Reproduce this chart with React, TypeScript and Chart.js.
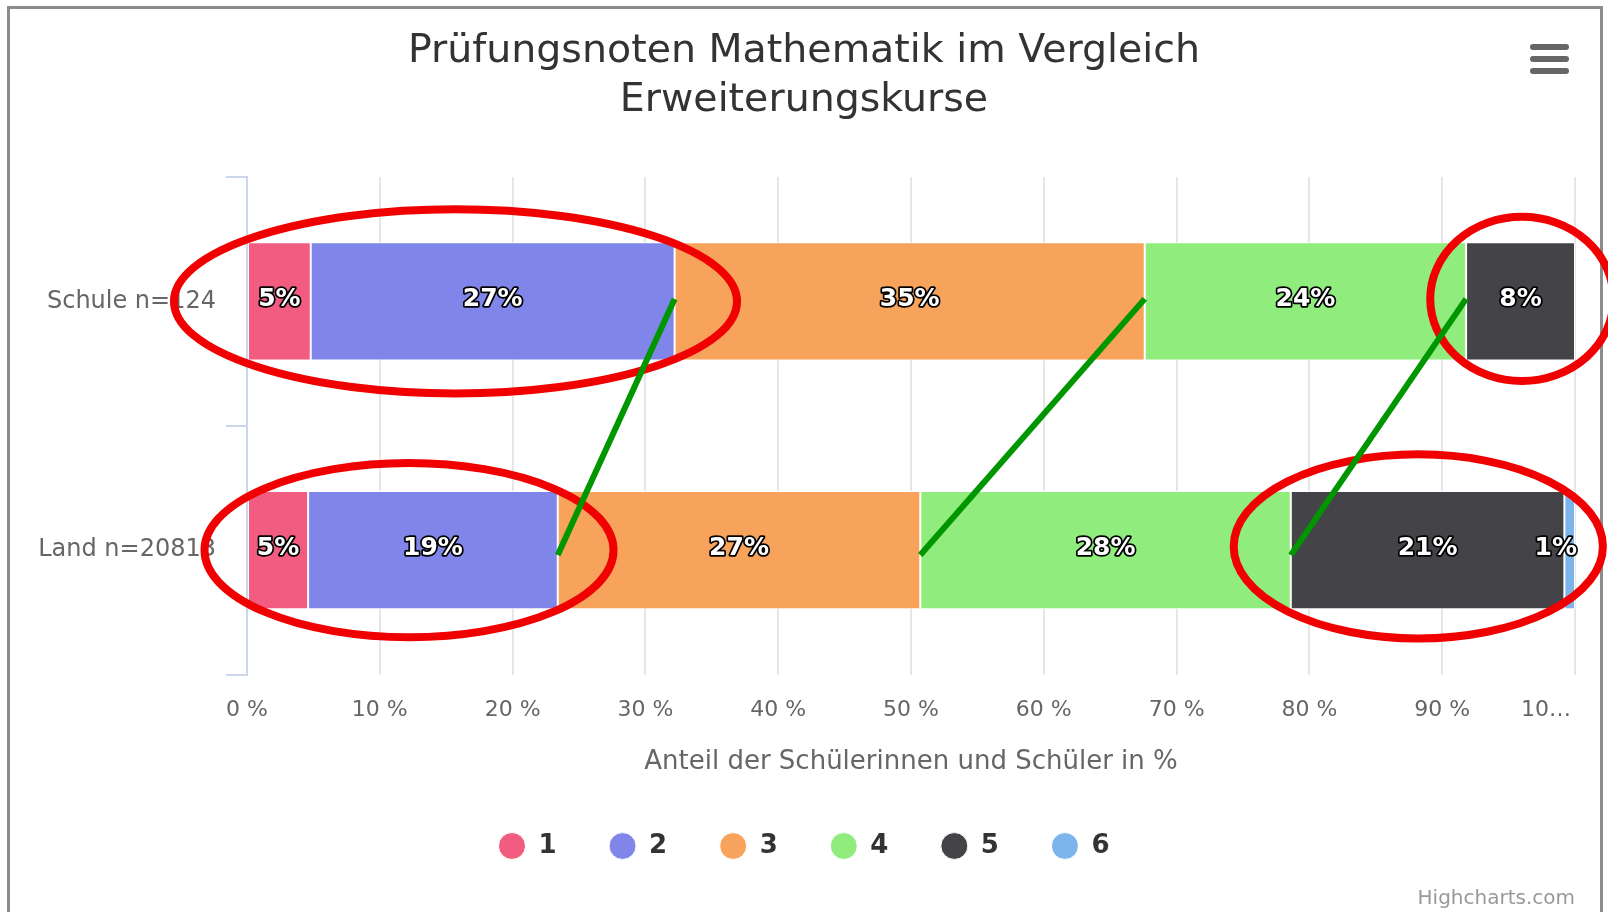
import React, { useEffect, useRef } from 'react';
import { Chart, registerables } from 'chart.js';

Chart.register(...registerables);

// ---------- data ----------
const categories = ['Schule n=124', 'Land n=20813'];
const gradeLabels = ['1', '2', '3', '4', '5', '6'];
const grade1 = [4.8, 4.6];
const grade2 = [27.4, 18.8];
const grade3 = [35.4, 27.3];
const grade4 = [24.2, 27.9];
const grade5 = [8.2, 20.6];
const grade6 = [0, 0.8];
const gradeSeries = [grade1, grade2, grade3, grade4, grade5, grade6];
const gradeColors = ['#f15c80', '#8085e9', '#f7a35c', '#90ed7d', '#434348', '#7cb5ec'];

const xTickValues = [0, 10, 20, 30, 40, 50, 60, 70, 80, 90, 100];
const xTickLabels = ['0 %', '10 %', '20 %', '30 %', '40 %', '50 %', '60 %', '70 %', '80 %', '90 %', '10…'];

const titleLines = ['Prüfungsnoten Mathematik im Vergleich', 'Erweiterungskurse'];
const xAxisTitle = 'Anteil der Schülerinnen und Schüler in %';
const creditText = 'Highcharts.com';

// hand-drawn highlights of the reference (in axis units)
const highlightRow = [0, 1, 0, 1];
const highlightRowShift = [0, 0, -0.01, -0.015];
const highlightCenterPct = [15.7, 12.2, 96.0, 88.2];
const highlightRadiusPct = [21.2, 15.4, 6.9, 13.9];
const highlightRadiusRows = [0.37, 0.35, 0.33, 0.37];
// green connectors: boundary after the first n grades, Schule -> Land
const connectorGradeCounts = [2, 3, 4];

const FONT = '"DejaVu Sans", "Lucida Grande", sans-serif';
const X_TICK_FONT_SIZE = 22;
const X_TICK_GAP = 22.8;

const cumulative = (row: number, n: number) => {
  let s = 0;
  for (let g = 0; g < n; g++) s += gradeSeries[g][row];
  return s;
};

const segmentLabels = {
  id: 'segmentLabels',
  afterDatasetsDraw(chart: any) {
    const { ctx, chartArea } = chart;
    ctx.save();
    ctx.font = `bold 25px ${FONT}`;
    ctx.textAlign = 'center';
    ctx.textBaseline = 'middle';
    ctx.lineJoin = 'round';
    chart.data.datasets.forEach((ds: any, di: number) => {
      const meta = chart.getDatasetMeta(di);
      meta.data.forEach((el: any, i: number) => {
        const v = ds.data[i] as number;
        if (!v) return;
        const text = `${Math.round(v)}%`;
        const w = ctx.measureText(text).width;
        let x = (el.x + el.base) / 2;
        if (x + w / 2 > chartArea.right + 2) x = chartArea.right + 2 - w / 2;
        const y = el.y - 2;
        ctx.strokeStyle = '#000000';
        ctx.lineWidth = 3.5;
        ctx.strokeText(text, x, y);
        ctx.fillStyle = '#ffffff';
        ctx.fillText(text, x, y);
      });
    });
    ctx.restore();
  },
};

const decorations = {
  id: 'decorations',
  afterDraw(chart: any) {
    const { ctx, height, chartArea } = chart;
    const xs = chart.scales.x;
    const ys = chart.scales.y;
    ctx.save();

    // last x tick label, shifted inside the plot like the reference
    ctx.font = `${X_TICK_FONT_SIZE}px ${FONT}`;
    ctx.fillStyle = '#666666';
    ctx.textAlign = 'right';
    ctx.textBaseline = 'middle';
    ctx.fillText(
      xTickLabels[xTickLabels.length - 1],
      chartArea.right - 4,
      xs.top + X_TICK_GAP + (X_TICK_FONT_SIZE * 1.2) / 2
    );

    // outer frame
    ctx.strokeStyle = '#8c8c8c';
    ctx.lineWidth = 3;
    ctx.beginPath();
    ctx.moveTo(8.5, height);
    ctx.lineTo(8.5, 7.5);
    ctx.lineTo(1601.5, 7.5);
    ctx.lineTo(1601.5, height);
    ctx.stroke();

    // context menu icon
    ctx.strokeStyle = '#666666';
    ctx.lineWidth = 6;
    ctx.lineCap = 'round';
    [47, 59, 71].forEach((yy) => {
      ctx.beginPath();
      ctx.moveTo(1533, yy);
      ctx.lineTo(1566, yy);
      ctx.stroke();
    });

    // credits
    ctx.font = `20px ${FONT}`;
    ctx.fillStyle = '#999999';
    ctx.textAlign = 'right';
    ctx.textBaseline = 'middle';
    ctx.fillText(creditText, chartArea.right, height - 13);

    // red highlight ellipses
    ctx.strokeStyle = 'rgb(240,0,0)';
    ctx.lineWidth = 8;
    ctx.lineCap = 'butt';
    highlightRow.forEach((row, i) => {
      const cy = ys.getPixelForValue(row + highlightRowShift[i]);
      const ry = Math.abs(ys.getPixelForValue(row + highlightRowShift[i] + highlightRadiusRows[i]) - cy);
      const cx = xs.getPixelForValue(highlightCenterPct[i]);
      const rx = xs.getPixelForValue(highlightCenterPct[i] + highlightRadiusPct[i]) - cx;
      ctx.beginPath();
      ctx.ellipse(cx, cy, rx, ry, 0, 0, Math.PI * 2);
      ctx.stroke();
    });

    // green connectors
    ctx.strokeStyle = 'rgb(0,150,0)';
    ctx.lineWidth = 6;
    connectorGradeCounts.forEach((n) => {
      const x1 = xs.getPixelForValue(cumulative(0, n));
      const y1 = ys.getPixelForValue(0 - 0.01);
      const x2 = xs.getPixelForValue(cumulative(1, n));
      const y2 = ys.getPixelForValue(1 + 0.02);
      ctx.beginPath();
      ctx.moveTo(x1, y1);
      ctx.lineTo(x2, y2);
      ctx.stroke();
    });

    ctx.restore();
  },
};

export default function App() {
  const canvasRef = useRef<HTMLCanvasElement | null>(null);

  useEffect(() => {
    document.body.style.margin = '0';
    document.body.style.overflow = 'hidden';
    const canvas = canvasRef.current;
    if (!canvas) return;

    const chart = new Chart(canvas, {
      type: 'bar',
      data: {
        labels: categories,
        datasets: gradeLabels.map((g, i) => ({
          label: g,
          data: gradeSeries[i],
          backgroundColor: gradeColors[i],
          borderColor: '#ffffff',
          borderWidth: 1,
          borderSkipped: false,
          barPercentage: 0.95,
          categoryPercentage: 0.5,
        })),
      },
      options: {
        indexAxis: 'y',
        animation: false,
        responsive: true,
        maintainAspectRatio: false,
        devicePixelRatio: 1,
        layout: { padding: { left: 33, right: 33, top: 0, bottom: 43 } },
        plugins: {
          title: {
            display: true,
            text: titleLines,
            color: '#333333',
            font: { family: FONT, size: 39.5, weight: 'normal', lineHeight: 49 / 39.5 },
            padding: { top: 27.5, bottom: 51.5 },
          },
          legend: {
            display: true,
            position: 'bottom',
            labels: {
              usePointStyle: true,
              pointStyle: 'circle',
              pointStyleWidth: 27,
              boxHeight: 19,
              boxWidth: 27,
              padding: 52.5,
              color: '#333333',
              font: { family: FONT, size: 26, weight: 'bold' },
            },
          },
          tooltip: { enabled: false },
        },
        scales: {
          x: {
            stacked: true,
            min: 0,
            max: 100,
            afterFit: (s: any) => {
              s.height = 106;
            },
            afterBuildTicks: (s: any) => {
              s.ticks = xTickValues.map((v) => ({ value: v }));
            },
            ticks: {
              autoSkip: false,
              maxRotation: 0,
              padding: 0,
              color: '#666666',
              font: { family: FONT, size: X_TICK_FONT_SIZE },
              // the last label is drawn by the decorations plugin (shifted inward)
              callback: (_v: any, i: number) => (i === xTickLabels.length - 1 ? '' : xTickLabels[i]),
            },
            grid: {
              color: '#e6e6e6',
              lineWidth: 2,
              drawTicks: true,
              tickLength: X_TICK_GAP,
              tickColor: 'rgba(0,0,0,0)',
            },
            border: { display: false },
            title: {
              display: true,
              text: xAxisTitle,
              color: '#666666',
              font: { family: FONT, size: 26 },
              padding: { top: 0, bottom: 2.5 },
            },
          },
          y: {
            stacked: true,
            afterFit: (s: any) => {
              s.width = 214;
            },
            ticks: {
              color: '#666666',
              font: { family: FONT, size: 24 },
              padding: 10,
            },
            grid: {
              display: true,
              drawOnChartArea: false,
              drawTicks: true,
              tickLength: 21,
              color: '#ccd6eb',
              lineWidth: 2,
              offset: true,
            },
            border: { display: true, color: '#ccd6eb', width: 2 },
          },
        },
      },
      plugins: [segmentLabels, decorations],
    } as any);

    return () => chart.destroy();
  }, []);

  return (
    <div style={{ position: 'relative', width: '1608px', height: '912px', background: '#ffffff' }}>
      <canvas ref={canvasRef} />
    </div>
  );
}
